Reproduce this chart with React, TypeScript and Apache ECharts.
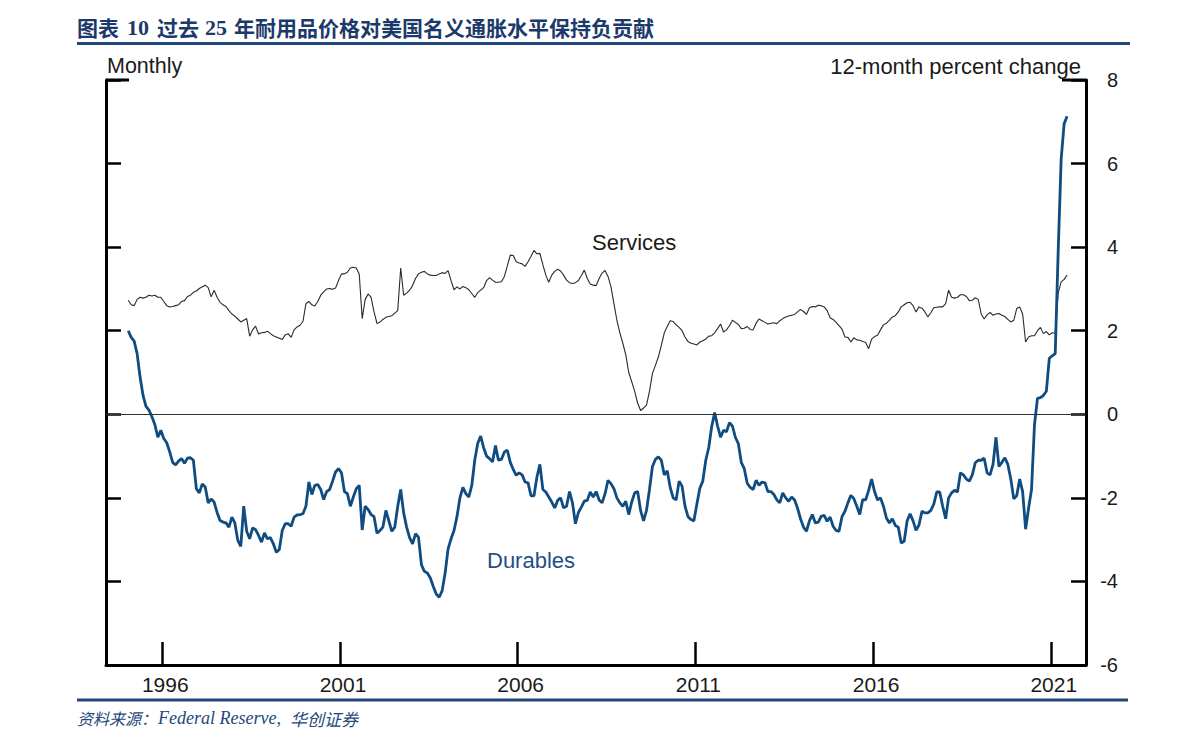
import React, { useEffect, useRef } from "react";
import * as echarts from "echarts";

// Monthly data, January 1995 – June 2021 (12-month percent change)
const START_YEAR = 1995;

const services: number[] = [
  // 1995
  2.73, 2.62, 2.60, 2.75, 2.80, 2.78, 2.80, 2.85, 2.83, 2.85, 2.80, 2.80,
  // 1996
  2.70, 2.60, 2.57, 2.58, 2.60, 2.62, 2.70, 2.72, 2.82, 2.85, 2.92, 2.95,
  // 1997
  3.01, 3.05, 3.09, 3.03, 2.81, 2.97, 2.80, 2.68, 2.62, 2.58, 2.48, 2.40,
  // 1998
  2.35, 2.28, 2.21, 2.25, 2.29, 1.87, 2.02, 2.11, 1.92, 1.95, 1.96, 1.99,
  // 1999
  1.93, 1.88, 1.85, 1.82, 1.79, 1.90, 1.93, 1.84, 2.02, 2.09, 2.13, 2.22,
  // 2000
  2.65, 2.70, 2.62, 2.59, 2.70, 2.85, 2.93, 3.00, 3.01, 2.99, 3.02, 3.20,
  // 2001
  3.36, 3.36, 3.40, 3.50, 3.52, 3.50, 3.35, 2.29, 2.75, 2.88, 2.80, 2.45,
  // 2002
  2.17, 2.21, 2.27, 2.32, 2.34, 2.36, 2.42, 2.48, 3.50, 2.85, 2.90, 2.97,
  // 2003
  3.08, 3.25, 3.36, 3.40, 3.42, 3.36, 3.33, 3.32, 3.32, 3.36, 3.39, 3.37,
  // 2004
  3.44, 3.20, 2.98, 3.05, 3.00, 3.06, 3.03, 2.98, 2.89, 2.80, 2.91, 2.97,
  // 2005
  3.03, 3.20, 3.27, 3.21, 3.16, 3.16, 3.17, 3.30, 3.55, 3.81, 3.80, 3.65,
  // 2006
  3.62, 3.60, 3.54, 3.65, 3.78, 3.92, 3.84, 3.85, 3.58, 3.33, 3.16, 3.33,
  // 2007
  3.42, 3.47, 3.43, 3.33, 3.21, 3.15, 3.13, 3.15, 3.20, 3.32, 3.45, 3.25,
  // 2008
  3.12, 3.09, 3.08, 3.25, 3.38, 3.44, 3.30, 3.05, 2.65, 2.25, 1.95, 1.70,
  // 2009
  1.42, 1.00, 0.78, 0.55, 0.27, 0.09, 0.15, 0.22, 0.55, 0.98, 1.17, 1.37,
  // 2010
  1.65, 1.95, 2.10, 2.24, 2.22, 2.14, 2.08, 2.00, 1.85, 1.74, 1.70, 1.68,
  // 2011
  1.66, 1.73, 1.76, 1.80, 1.87, 1.88, 1.95, 2.05, 2.16, 1.97, 2.02, 2.12,
  // 2012
  2.25, 2.20, 2.15, 2.05, 2.06, 2.10, 2.03, 2.02, 2.18, 2.28, 2.24, 2.20,
  // 2013
  2.16, 2.18, 2.19, 2.17, 2.24, 2.29, 2.33, 2.35, 2.37, 2.39, 2.45, 2.51,
  // 2014
  2.46, 2.39, 2.55, 2.58, 2.57, 2.61, 2.60, 2.57, 2.48, 2.31, 2.27, 2.20,
  // 2015
  2.12, 2.04, 1.85, 1.84, 1.73, 1.83, 1.78, 1.77, 1.74, 1.72, 1.57, 1.80,
  // 2016
  1.86, 1.89, 2.02, 2.14, 2.18, 2.25, 2.33, 2.36, 2.45, 2.57, 2.62, 2.67,
  // 2017
  2.68, 2.60, 2.45, 2.57, 2.54, 2.45, 2.33, 2.43, 2.55, 2.56, 2.57, 2.57,
  // 2018
  2.65, 2.97, 2.80, 2.78, 2.80, 2.86, 2.86, 2.82, 2.72, 2.73, 2.79, 2.75,
  // 2019
  2.40, 2.28, 2.38, 2.44, 2.37, 2.40, 2.41, 2.37, 2.34, 2.27, 2.21, 2.25,
  // 2020
  2.53, 2.57, 2.40, 1.73, 1.85, 1.88, 1.88, 2.00, 2.08, 1.93, 1.98, 1.90,
  // 2021
  1.95, 1.94, 2.90, 3.17, 3.23, 3.33,
];

const durables: number[] = [
  // 1995
  2.00, 1.84, 1.75, 1.45, 0.89, 0.45, 0.19, 0.10, -0.06, -0.25, -0.55, -0.38,
  // 1996
  -0.58, -0.68, -0.90, -1.15, -1.21, -1.12, -1.06, -1.17, -1.05, -1.04, -1.10, -1.78,
  // 1997
  -1.88, -1.67, -1.74, -2.12, -2.03, -2.10, -2.35, -2.54, -2.58, -2.60, -2.70, -2.46,
  // 1998
  -2.60, -3.02, -3.16, -2.20, -2.80, -2.98, -2.72, -2.76, -2.90, -3.06, -2.84, -2.98,
  // 1999
  -2.95, -3.10, -3.30, -3.24, -2.78, -2.62, -2.62, -2.68, -2.46, -2.41, -2.40, -2.38,
  // 2000
  -2.20, -1.62, -1.92, -1.70, -1.68, -1.80, -2.04, -1.85, -1.80, -1.60, -1.38, -1.30,
  // 2001
  -1.40, -1.85, -1.90, -2.20, -1.98, -1.78, -1.70, -2.77, -2.20, -2.28, -2.40, -2.45,
  // 2002
  -2.85, -2.78, -2.70, -2.30, -2.55, -2.80, -2.70, -2.20, -1.80, -2.36, -2.70, -2.95,
  // 2003
  -3.10, -2.86, -2.94, -3.60, -3.76, -3.80, -3.92, -4.12, -4.30, -4.38, -4.22, -3.80,
  // 2004
  -3.22, -2.98, -2.78, -2.45, -2.00, -1.75, -1.90, -1.98, -1.70, -1.10, -0.70, -0.52,
  // 2005
  -0.80, -1.00, -1.06, -1.14, -0.75, -1.10, -1.08, -0.90, -0.86, -1.15, -1.32, -1.46,
  // 2006
  -1.40, -1.45, -1.62, -1.64, -1.95, -1.95, -1.50, -1.20, -1.80, -1.86, -1.98, -2.10,
  // 2007
  -2.24, -2.06, -2.00, -2.24, -2.20, -1.85, -2.12, -2.62, -2.35, -2.22, -2.08, -2.06,
  // 2008
  -1.86, -1.98, -1.85, -2.05, -2.12, -1.90, -1.58, -1.66, -1.78, -2.00, -2.12, -2.20,
  // 2009
  -2.08, -2.40, -2.10, -1.88, -1.85, -2.30, -2.55, -2.30, -1.80, -1.25, -1.08, -1.02,
  // 2010
  -1.10, -1.45, -1.35, -1.75, -2.00, -2.05, -1.60, -1.72, -2.20, -2.45, -2.52, -2.55,
  // 2011
  -2.15, -1.77, -1.60, -1.10, -0.80, -0.30, 0.04, -0.28, -0.55, -0.38, -0.42, -0.20,
  // 2012
  -0.28, -0.55, -0.70, -1.15, -1.30, -1.65, -1.75, -1.80, -1.58, -1.70, -1.62, -1.64,
  // 2013
  -1.85, -1.85, -1.92, -2.05, -2.12, -1.88, -2.00, -2.08, -1.98, -2.05, -2.25, -2.50,
  // 2014
  -2.70, -2.80, -2.55, -2.40, -2.60, -2.58, -2.44, -2.42, -2.56, -2.46, -2.68, -2.78,
  // 2015
  -2.80, -2.45, -2.32, -2.12, -1.94, -2.02, -2.20, -2.40, -2.04, -2.05, -1.82, -1.55,
  // 2016
  -1.85, -2.05, -2.00, -2.20, -2.48, -2.60, -2.50, -2.66, -2.70, -3.08, -3.04, -2.55,
  // 2017
  -2.38, -2.55, -2.78, -2.65, -2.32, -2.36, -2.36, -2.30, -2.15, -1.86, -1.86, -2.20,
  // 2018
  -2.50, -2.00, -1.88, -1.82, -1.86, -1.40, -1.45, -1.55, -1.60, -1.45, -1.16, -1.10,
  // 2019
  -1.10, -1.05, -1.40, -1.45, -1.20, -0.55, -1.25, -1.15, -1.04, -1.20, -1.55, -2.02,
  // 2020
  -1.95, -1.55, -1.85, -2.75, -2.25, -1.80, -0.25, 0.38, 0.40, 0.45, 0.55, 1.34,
  // 2021
  1.40, 1.45, 3.90, 6.10, 6.95, 7.13,
];

const yearTicks = [1996, 2001, 2006, 2011, 2016, 2021];
const Y_MIN = -6;
const Y_MAX = 8;
const Y_STEP = 2;
const X_MIN = 1994.416;
const X_MAX = 2021.991;

const TITLE_PARTS = ["图表", "10", "过去", "25", "年耐用品价格对美国名义通胀水平保持负贡献"];
const SOURCE_PARTS = ["资料来源：", "Federal Reserve,", "华创证券"];

const SANS = "'Liberation Sans', Arial, sans-serif";
const NAVY = "#1b3a6b";
const RULE = "#24477a";

// each monthly value is plotted at mid-month
const toPoints = (arr: number[]) =>
  arr.map((v, i) => [START_YEAR + (i + 0.5) / 12, v]);

export default function App() {
  const ref = useRef<HTMLDivElement>(null);

  useEffect(() => {
    if (!ref.current) return;
    const chart = echarts.init(ref.current, undefined, { renderer: "svg" });

    const axisLineStyle = { color: "#000", width: 3 };
    const tickStyle = { color: "#000", width: 2.5 };

    const yAxisBase = {
      type: "value",
      min: Y_MIN,
      max: Y_MAX,
      interval: Y_STEP,
      axisLine: { show: true, onZero: false, lineStyle: axisLineStyle },
      axisTick: { show: true, inside: true, length: 15, lineStyle: tickStyle },
      splitLine: { show: false },
    };

    const option: any = {
      animation: false,
      backgroundColor: "#fff",
      grid: { left: 106, right: 105, top: 80, bottom: 81, containLabel: false },
      xAxis: {
        type: "value",
        min: X_MIN,
        max: X_MAX,
        axisLine: { show: true, onZero: false, lineStyle: axisLineStyle },
        axisTick: {
          show: true,
          inside: true,
          length: 23,
          lineStyle: tickStyle,
          customValues: yearTicks,
        },
        axisLabel: {
          customValues: yearTicks,
          formatter: (v: number) => String(Math.round(v)),
          fontSize: 21,
          fontFamily: SANS,
          color: "#1a1a1a",
          margin: 9,
          padding: [0, 0, 0, 6],
        },
        splitLine: { show: false },
      },
      yAxis: [
        { ...yAxisBase, position: "left", axisLabel: { show: false } },
        {
          ...yAxisBase,
          position: "right",
          axisLabel: {
            show: true,
            align: "right",
            margin: 32,
            fontSize: 20,
            fontFamily: SANS,
            color: "#1a1a1a",
          },
        },
      ],
      series: [
        {
          name: "Services",
          type: "line",
          yAxisIndex: 1,
          data: toPoints(services),
          showSymbol: false,
          symbol: "none",
          lineStyle: { color: "#2a2a2a", width: 1.1 },
          z: 3,
          markLine: {
            silent: true,
            symbol: "none",
            label: { show: false },
            lineStyle: { color: "#333", width: 1.2, type: "solid" },
            data: [{ yAxis: 0 }],
          },
        },
        {
          name: "Durables",
          type: "line",
          yAxisIndex: 1,
          data: toPoints(durables),
          showSymbol: false,
          symbol: "none",
          lineStyle: { color: "#0f4c81", width: 2.8 },
          z: 4,
        },
      ],
      graphic: [
        // title
        { type: "text", x: 77, y: 27, style: { text: TITLE_PARTS[0], font: "bold 21px 'Noto Sans CJK SC'", fill: NAVY, verticalAlign: "middle" } },
        { type: "text", x: 127, y: 27, style: { text: TITLE_PARTS[1], font: "bold 22px 'Liberation Serif', serif", fill: NAVY, verticalAlign: "middle" } },
        { type: "text", x: 157, y: 27, style: { text: TITLE_PARTS[2], font: "bold 21px 'Noto Sans CJK SC'", fill: NAVY, verticalAlign: "middle" } },
        { type: "text", x: 205, y: 27, style: { text: TITLE_PARTS[3], font: "bold 22px 'Liberation Serif', serif", fill: NAVY, verticalAlign: "middle" } },
        { type: "text", x: 234, y: 27, style: { text: TITLE_PARTS[4], font: "bold 21px 'Noto Sans CJK SC'", fill: NAVY, verticalAlign: "middle" } },
        { type: "line", shape: { x1: 77, y1: 43.5, x2: 1130, y2: 43.5 }, style: { stroke: RULE, lineWidth: 3 } },
        // axis captions
        { type: "text", x: 107, y: 66, style: { text: "Monthly", font: `21.5px ${SANS}`, fill: "#1a1a1a", verticalAlign: "middle" } },
        { type: "text", x: 1081, y: 66, style: { text: "12-month percent change", font: `22px ${SANS}`, fill: "#1a1a1a", align: "right", verticalAlign: "middle" } },
        // top corner ticks
        { type: "line", shape: { x1: 106, y1: 80, x2: 129, y2: 80 }, style: { stroke: "#000", lineWidth: 3 } },
        { type: "line", shape: { x1: 1062, y1: 80, x2: 1086, y2: 80 }, style: { stroke: "#000", lineWidth: 3 } },
        // series labels
        { type: "text", x: 592, y: 242, style: { text: "Services", font: `22px ${SANS}`, fill: "#1a1a1a", verticalAlign: "middle" } },
        { type: "text", x: 487, y: 560, style: { text: "Durables", font: `22px ${SANS}`, fill: "#1f4f86", verticalAlign: "middle" } },
        // footer
        { type: "line", shape: { x1: 77, y1: 700, x2: 1128, y2: 700 }, style: { stroke: RULE, lineWidth: 3 } },
        { type: "text", x: 77, y: 718, style: { text: SOURCE_PARTS[0], font: "italic 16px 'Noto Sans CJK SC'", fill: RULE, verticalAlign: "middle" } },
        { type: "text", x: 158, y: 718, style: { text: SOURCE_PARTS[1], font: "italic 18px 'Liberation Serif', serif", fill: RULE, verticalAlign: "middle" } },
        { type: "text", x: 290, y: 718, style: { text: SOURCE_PARTS[2], font: "italic 17px 'Noto Sans CJK SC'", fill: RULE, verticalAlign: "middle" } },
      ],
    };

    chart.setOption(option);
    return () => chart.dispose();
  }, []);

  return (
    <div
      ref={ref}
      style={{ position: "fixed", left: 0, top: 0, width: 1191, height: 746, background: "#fff" }}
    />
  );
}
